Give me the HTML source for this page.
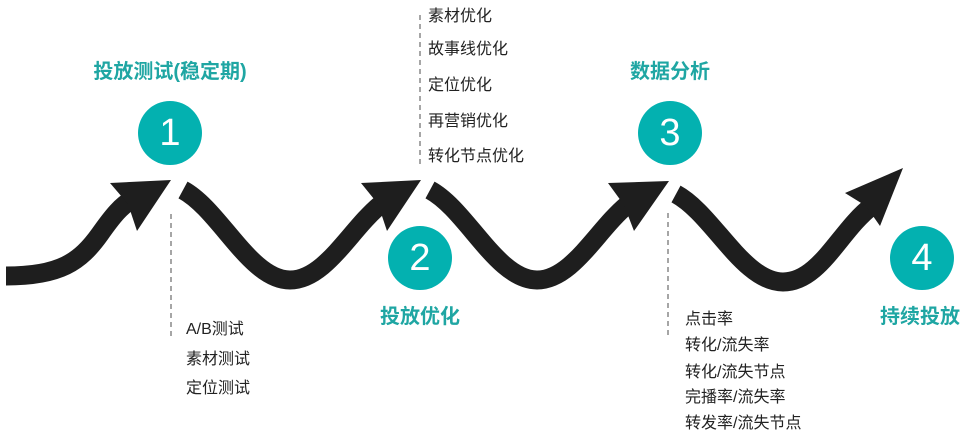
<!DOCTYPE html>
<html><head><meta charset="utf-8"><style>
body{margin:0;width:970px;height:440px;background:#fff;overflow:hidden;position:relative;font-family:"Liberation Sans","Noto Sans CJK SC",sans-serif}
.t{position:absolute;font-size:16px;color:#222;white-space:nowrap;line-height:18px}
.h{position:absolute;font-size:20px;font-weight:bold;color:#1fa6a3;white-space:nowrap;transform:translateX(-50%);line-height:22px}
.c{position:absolute;width:64px;height:64px;border-radius:50%;background:#03b1b0;color:#fff;font-size:38px;text-align:center;line-height:64px;transform:translate(-50%,-50%)}
</style></head><body>
<svg width="970" height="440" style="position:absolute;left:0;top:0">
<g fill="none" stroke="#1e1e1e" stroke-width="19">
<path d="M6,276 C60,276 80,262 100,234 C112,217 122,204 135,198"/>
<path d="M183,190 C220,210 250,280 290,280 C325,280 350,230 380,205"/>
<path d="M430,190 C467,210 497,280 537,280 C572,280 597,230 627,205"/>
<path d="M676,194 C713,214 743,282 783,282 C820,282 840,230 872,206"/>
</g>
<g stroke="#888" stroke-width="1.5" stroke-dasharray="5,4">
<line x1="171" y1="214" x2="171" y2="340"/>
<line x1="420" y1="15" x2="420" y2="165"/>
<line x1="668" y1="213" x2="668" y2="335"/>
</g>
<g fill="#1e1e1e">
<polygon points="110,183 171,180 137,231 128,204"/>
<polygon points="361,183 421,180 387,231 378,204"/>
<polygon points="608,183 669,181 634,231 624,205"/>
<polygon points="845,193 903,168 880,226 866,206"/>
</g>
</svg>
<div class="h" style="left:170px;top:61px">投放测试(稳定期)</div>
<div class="h" style="left:670px;top:61px">数据分析</div>
<div class="h" style="left:420px;top:306px">投放优化</div>
<div class="h" style="left:920px;top:306px">持续投放</div>
<div class="c" style="left:170px;top:133px">1</div>
<div class="c" style="left:420px;top:258px">2</div>
<div class="c" style="left:670px;top:133px">3</div>
<div class="c" style="left:922px;top:258px">4</div>
<div class="t" style="left:186px;top:321px">A/B测试</div>
<div class="t" style="left:186px;top:351px">素材测试</div>
<div class="t" style="left:186px;top:380px">定位测试</div>
<div class="t" style="left:428px;top:8px">素材优化</div>
<div class="t" style="left:428px;top:41px">故事线优化</div>
<div class="t" style="left:428px;top:77px">定位优化</div>
<div class="t" style="left:428px;top:113px">再营销优化</div>
<div class="t" style="left:428px;top:148px">转化节点优化</div>
<div class="t" style="left:685px;top:311px">点击率</div>
<div class="t" style="left:685px;top:337px">转化/流失率</div>
<div class="t" style="left:685px;top:364px">转化/流失节点</div>
<div class="t" style="left:685px;top:389px">完播率/流失率</div>
<div class="t" style="left:685px;top:415px">转发率/流失节点</div>
</body></html>
